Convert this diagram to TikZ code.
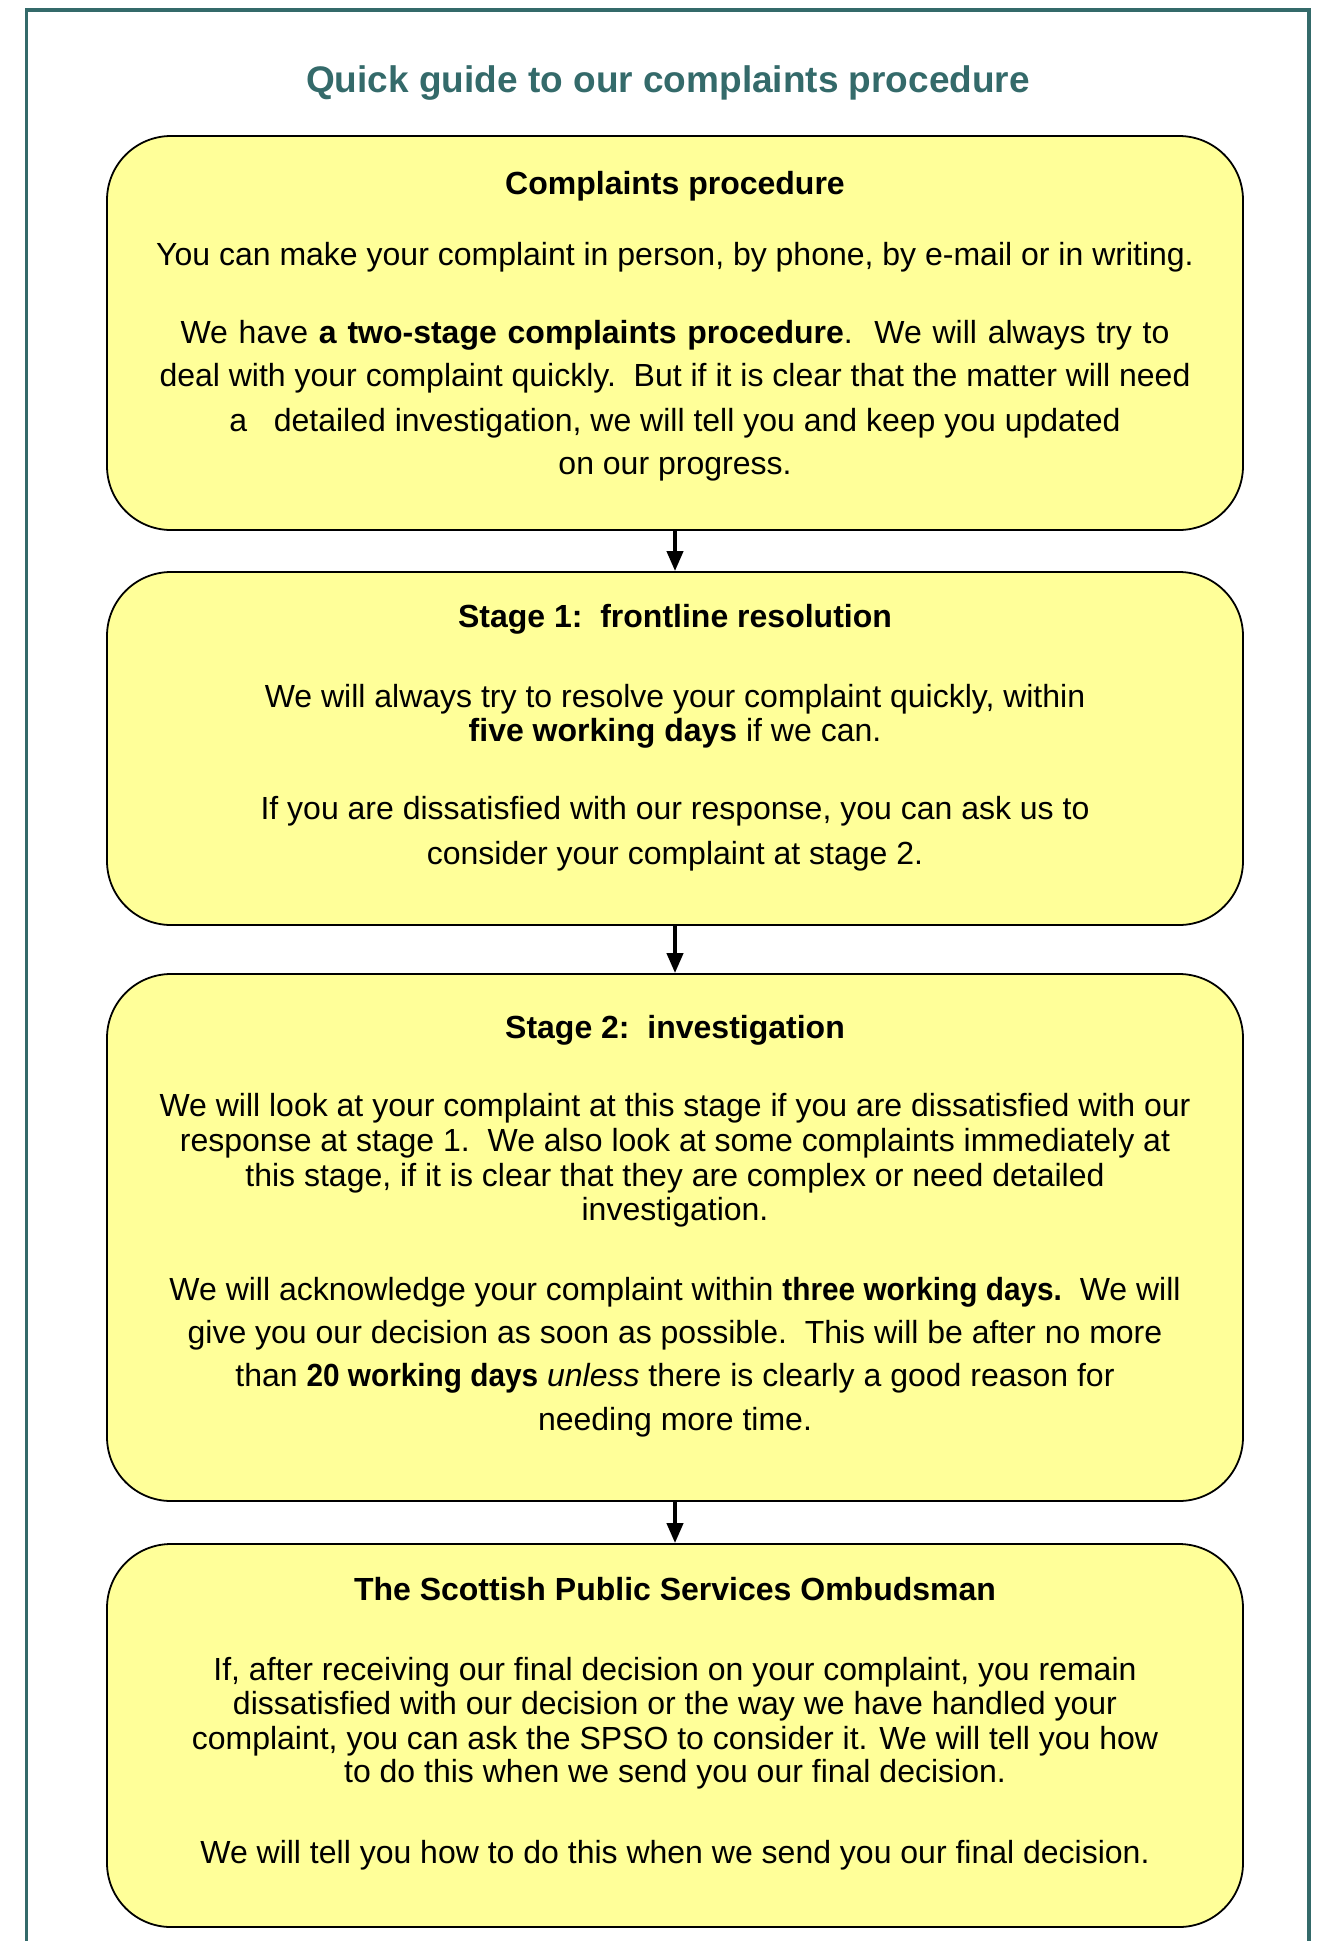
\documentclass[tikz,border=0pt]{standalone}
\usepackage{fontspec}
\usepackage{graphicx}
\setmainfont{Liberation Sans}
\usetikzlibrary{arrows.meta}
\definecolor{frameteal}{RGB}{52,106,106}
\definecolor{boxyellow}{RGB}{255,255,153}
\newcommand{\narrowbf}[1]{\scalebox{0.93}[1]{\textbf{#1}}}
\begin{document}
\begin{tikzpicture}[x=1pt,y=-1pt,
  stagebox/.style={draw=black,line width=1.8pt,fill=boxyellow,rounded corners=64pt,minimum width=1136pt,inner sep=0pt},
  txt/.style={anchor=base,inner sep=0pt,font=\fontsize{32}{38}\selectfont},
  hdr/.style={anchor=base,inner sep=0pt,font=\fontsize{32}{38}\selectfont\bfseries},
  flowarrow/.style={line width=4pt,-{Triangle[width=16pt,length=20pt]}}]
\useasboundingbox (0,0) rectangle (1322,1941);
\draw[frameteal,line width=3.5pt] (26.5,1941) -- (26.5,10) -- (1309,10) -- (1309,1941);
\node[anchor=base,inner sep=0pt,text=frameteal,font=\fontsize{37}{44}\selectfont\bfseries] (title) at (668,92) {Quick guide to our complaints procedure};
% boxes
\node[stagebox,minimum height=394pt] (b1) at (675,333) {};
\node[stagebox,minimum height=353pt] (b2) at (675,748.5) {};
\node[stagebox,minimum height=527pt] (b3) at (675,1237.5) {};
\node[stagebox,minimum height=383pt] (b4) at (675,1735.5) {};
% arrows
\draw[flowarrow] (b1.south) -- (b2.north);
\draw[flowarrow] (b2.south) -- (b3.north);
\draw[flowarrow] (b3.south) -- (b4.north);
% box 1 text
\node[hdr] (h1) at (675,194) {Complaints procedure};
\node[txt] (t1a) at (675,265) {You can make your complaint in person, by phone, by e-mail or in writing.};
\node[txt] (t1b) at (675,343) {\spaceskip=10.8pt We have \textbf{a two-stage complaints procedure}.\ \ We will always try to};
\node[txt] (t1c) at (675,386) {deal with your complaint quickly.\ \ But if it is clear that the matter will need};
\node[txt] (t1d) at (675,431) {a\ \ \ detailed investigation, we will tell you and keep you updated};
\node[txt] (t1e) at (675,474) {on our progress.};
% box 2 text
\node[hdr] (h2) at (675,627) {Stage 1:\ \ frontline resolution};
\node[txt] (t2a) at (675,707) {We will always try to resolve your complaint quickly, within};
\node[txt] (t2b) at (675,741) {\textbf{five working days} if we can.};
\node[txt] (t2c) at (675,819) {If you are dissatisfied with our response, you can ask us to};
\node[txt] (t2d) at (675,864) {consider your complaint at stage 2.};
% box 3 text
\node[hdr] (h3) at (675,1038) {Stage 2:\ \ investigation};
\node[txt] (t3a) at (675,1116) {We will look at your complaint at this stage if you are dissatisfied with our};
\node[txt] (t3b) at (675,1151) {response at stage 1.\ \ We also look at some complaints immediately at};
\node[txt] (t3c) at (675,1186) {this stage, if it is clear that they are complex or need detailed};
\node[txt] (t3d) at (675,1220) {investigation.};
\node[txt] (t3e) at (675,1300) {We will acknowledge your complaint within \narrowbf{three working days.}\ \ We will};
\node[txt] (t3f) at (675,1343) {give you our decision as soon as possible.\ \ This will be after no more};
\node[txt] (t3g) at (675,1386) {than \narrowbf{20 working days} \textit{unless} there is clearly a good reason for};
\node[txt] (t3h) at (675,1430) {needing more time.};
% box 4 text
\node[hdr] (h4) at (675,1600) {The Scottish Public Services Ombudsman};
\node[txt] (t4a) at (675,1680) {If, after receiving our final decision on your complaint, you remain};
\node[txt] (t4b) at (675,1714) {dissatisfied with our decision or the way we have handled your};
\node[txt] (t4c) at (675,1749) {complaint, you can ask the SPSO to consider it. We will tell you how};
\node[txt] (t4d) at (675,1782) {to do this when we send you our final decision.};
\node[txt] (t4e) at (675,1863) {We will tell you how to do this when we send you our final decision.};
\end{tikzpicture}
\end{document}
